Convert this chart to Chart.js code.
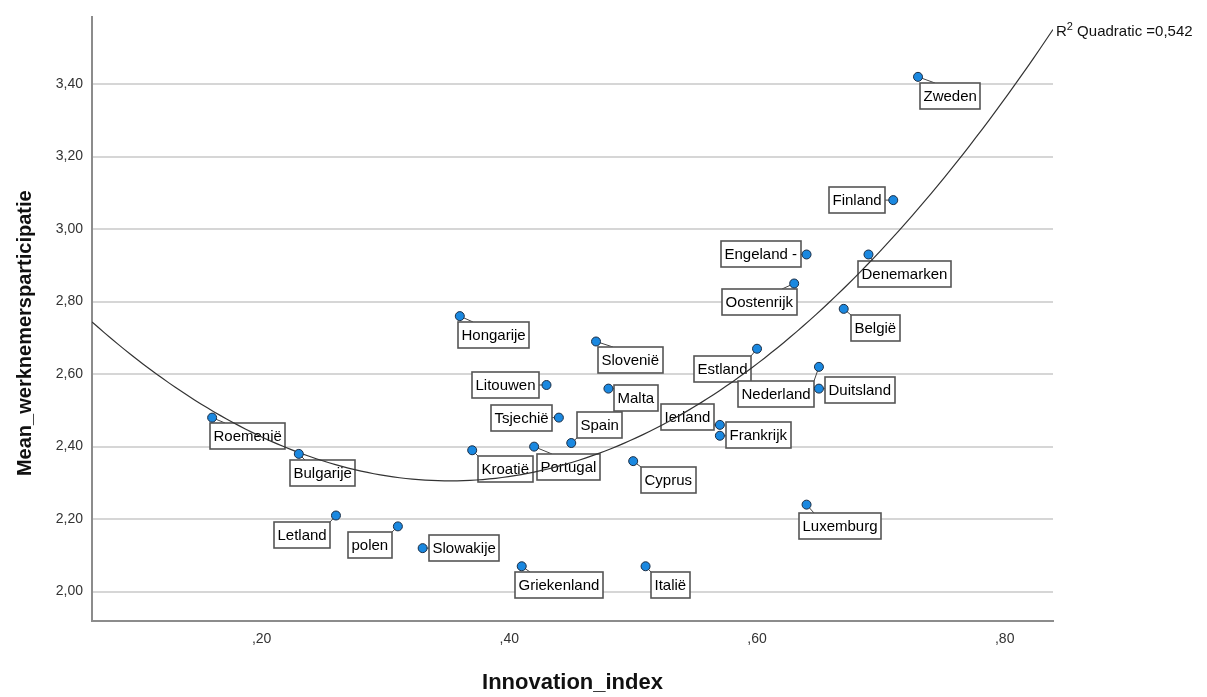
<!DOCTYPE html>
<html>
<head>
<meta charset="utf-8">
<script src="https://cdn.jsdelivr.net/npm/chart.js@4.4.1/dist/chart.umd.min.js"></script>
<style>
  body { margin: 0; background: #fff; }
  #wrap { width: 1207px; height: 697px; }
</style>
</head>
<body>
<div id="wrap"><canvas id="grafico" width="1207" height="697"></canvas></div>
<script>
const landen = ['Zweden', 'Finland', 'Engeland -', 'Denemarken', 'Oostenrijk', 'België', 'Estland',
  'Nederland', 'Duitsland', 'Hongarije', 'Slovenië', 'Litouwen', 'Malta', 'Tsjechië', 'Spain',
  'Ierland', 'Frankrijk', 'Kroatië', 'Portugal', 'Cyprus', 'Roemenië', 'Bulgarije', 'Letland',
  'polen', 'Slowakije', 'Griekenland', 'Italië', 'Luxemburg'];
const innovatie = [0.73, 0.71, 0.64, 0.69, 0.63, 0.67, 0.60,
  0.65, 0.65, 0.36, 0.47, 0.43, 0.48, 0.44, 0.45,
  0.57, 0.57, 0.37, 0.42, 0.50, 0.16, 0.23, 0.26,
  0.31, 0.33, 0.41, 0.51, 0.64];
const participatie = [3.42, 3.08, 2.93, 2.93, 2.85, 2.78, 2.67,
  2.62, 2.56, 2.76, 2.69, 2.57, 2.56, 2.48, 2.41,
  2.46, 2.43, 2.39, 2.40, 2.36, 2.48, 2.38, 2.21,
  2.18, 2.12, 2.07, 2.07, 2.24];

const xTicks = [0.2, 0.4, 0.6, 0.8];
const xTickLabels = [',20', ',40', ',60', ',80'];
const yTicks = [2.0, 2.2, 2.4, 2.6, 2.8, 3.0, 3.2, 3.4];
const yTickLabels = ['2,00', '2,20', '2,40', '2,60', '2,80', '3,00', '3,20', '3,40'];
const xMin = 0.063, xMax = 0.839;
const yMin = 1.919, yMax = 3.584;

// kwadratische fit zoals in de figuur: y = a + b x + c x^2
const fitCoef = [2.956, -3.696, 5.25];
const r2Tekst = ' Quadratic =0,542';

// plaats van de labels: [uitlijning, dx, dy] t.o.v. het punt
const labelPos = [['l', 2, 6], ['r', -8, -13], ['r', -6, -13], ['l', -10, 7], ['r', 3, 6], ['l', 7, 6], ['r', -6, 7],
  ['r', -5, 14], ['l', 6, -12], ['l', -2, 6], ['l', 2, 6], ['r', -7, -13], ['l', 6, -4], ['r', -7, -13], ['l', 6, -31],
  ['r', -6, -21], ['l', 6, -14], ['l', 6, 6], ['l', 3, 7], ['l', 8, 6], ['l', -2, 5], ['l', -9, 6], ['r', -6, 6],
  ['r', -6, 6], ['l', 6, -13], ['l', -7, 6], ['l', 5, 6], ['l', -8, 8]];

const fontFam = '"Liberation Sans", Arial, sans-serif';

const fit = x => fitCoef[0] + fitCoef[1] * x + fitCoef[2] * x * x;
const curve = [];
for (let i = 0; i <= 150; i++) {
  const x = xMin + (xMax - xMin) * i / 150;
  curve.push({ x: x, y: fit(x) });
}

const labelPlugin = {
  id: 'landLabels',
  beforeDatasetsDraw(chart) {
    const ctx = chart.ctx;
    const meta = chart.getDatasetMeta(0);
    ctx.save();
    ctx.font = '15px ' + fontFam;
    meta.data.forEach((pt, i) => {
      const [al, dx, dy] = labelPos[i];
      const w = Math.round(ctx.measureText(landen[i]).width + 7);
      const h = 26;
      const left = Math.round(al === 'l' ? pt.x + dx : pt.x + dx - w);
      const top = Math.round(pt.y + dy);
      const right = left + w, bottom = top + h;
      let ax, ay;
      if (top >= pt.y + 3 || bottom <= pt.y - 3) {
        ay = top >= pt.y + 3 ? top : bottom;
        if (pt.x > right) ax = right;
        else if (pt.x < left - 4) ax = left;
        else ax = Math.min(Math.max(pt.x, left + 15), right - 15);
      } else {
        ay = pt.y;
        ax = pt.x < left ? left : right;
      }
      ctx.strokeStyle = '#444';
      ctx.lineWidth = 1;
      ctx.beginPath();
      ctx.moveTo(pt.x, pt.y);
      ctx.lineTo(ax, ay);
      ctx.stroke();
      ctx.fillStyle = '#fff';
      ctx.fillRect(left, top, w, h);
      ctx.strokeStyle = '#555';
      ctx.lineWidth = 1.6;
      ctx.strokeRect(left, top, w, h);
      ctx.fillStyle = '#000';
      ctx.textBaseline = 'middle';
      ctx.fillText(landen[i], left + 3.5, top + h / 2 + 1);
    });
    ctx.restore();
  },
  afterDatasetsDraw(chart) {
    const ctx = chart.ctx;
    const ca = chart.chartArea;
    const yb = chart.scales.y.getPixelForValue(fit(xMax)) + 7;
    ctx.save();
    ctx.fillStyle = '#111';
    ctx.textBaseline = 'alphabetic';
    let x = ca.right + 3;
    ctx.font = '15px ' + fontFam;
    ctx.fillText('R', x, yb);
    x += ctx.measureText('R').width;
    ctx.font = '11px ' + fontFam;
    ctx.fillText('2', x, yb - 6);
    x += ctx.measureText('2').width;
    ctx.font = '15px ' + fontFam;
    ctx.fillText(r2Tekst, x, yb);
    // titel y-as
    ctx.translate(25, (ca.top + ca.bottom) / 2 + 14);
    ctx.rotate(-Math.PI / 2);
    ctx.font = 'bold 20px ' + fontFam;
    ctx.textAlign = 'center';
    ctx.textBaseline = 'middle';
    ctx.fillText('Mean_werknemersparticipatie', 0, 0);
    ctx.restore();
  }
};

new Chart(document.getElementById('grafico'), {
  type: 'scatter',
  data: {
    datasets: [{
      label: 'landen',
      data: innovatie.map((x, i) => ({ x: x, y: participatie[i] })),
      backgroundColor: '#1a88e0',
      borderColor: '#1b2d44',
      borderWidth: 1,
      pointRadius: 4.5,
      order: 0
    }, {
      type: 'line',
      label: 'fit',
      data: curve,
      borderColor: '#333',
      borderWidth: 1.2,
      pointRadius: 0,
      fill: false,
      tension: 0,
      order: 1
    }]
  },
  options: {
    responsive: false,
    animation: false,
    layout: { padding: { top: 7, right: 154, left: 0, bottom: 0 } },
    plugins: { legend: { display: false }, tooltip: { enabled: false } },
    scales: {
      x: {
        type: 'linear', min: xMin, max: xMax,
        afterBuildTicks: s => { s.ticks = xTicks.map(v => ({ value: v })); },
        afterFit: s => { s.height = 76; },
        grid: { display: false, drawTicks: false },
        border: { display: true, color: '#8c8c8c', width: 2 },
        ticks: { padding: 10, autoSkip: false, maxRotation: 0, color: '#333',
          font: { family: fontFam, size: 14 }, callback: (v, i) => xTickLabels[i] },
        title: { display: true, text: 'Innovation_index', color: '#111',
          font: { family: fontFam, size: 22, weight: 'bold' }, padding: { top: 0, bottom: 1 } }
      },
      y: {
        type: 'linear', min: yMin, max: yMax,
        afterBuildTicks: s => { s.ticks = yTicks.map(v => ({ value: v })); },
        afterFit: s => { s.width = 92; },
        grid: { color: '#d6d6d6', lineWidth: 2, drawTicks: false },
        border: { display: true, color: '#8c8c8c', width: 2 },
        ticks: { padding: 9, autoSkip: false, color: '#333',
          font: { family: fontFam, size: 14 }, callback: (v, i) => yTickLabels[i] }
      }
    }
  },
  plugins: [labelPlugin]
});
</script>
</body>
</html>
